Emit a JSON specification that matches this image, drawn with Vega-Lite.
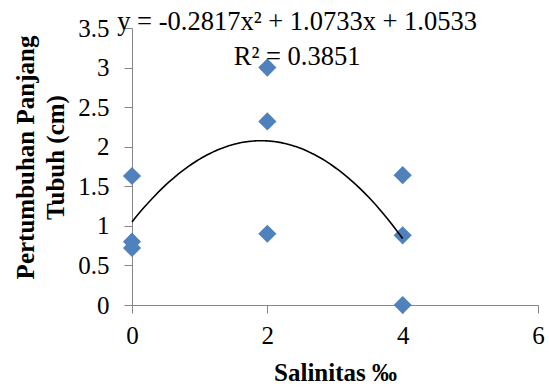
{
  "$schema": "https://vega.github.io/schema/vega-lite/v6.json",
  "width": 406,
  "height": 277,
  "autosize": {"type": "none"},
  "padding": {"left": 132, "top": 28, "right": 11, "bottom": 82},
  "background": "white",
  "config": {
    "view": {"stroke": null},
    "font": "Liberation Serif",
    "axis": {
      "grid": false,
      "domainColor": "#868686",
      "tickColor": "#868686",
      "domainWidth": 1,
      "tickWidth": 1,
      "tickSize": 8,
      "labelFont": "Liberation Serif",
      "labelFontSize": 25,
      "labelColor": "black",
      "labelOverlap": false,
      "labelFlush": false,
      "titleFont": "Liberation Serif",
      "titleFontSize": 25,
      "titleFontWeight": "bold",
      "titleColor": "black"
    }
  },
  "datasets": {
    "pts": [
      {"x": 0, "y": 1.63},
      {"x": 0, "y": 0.8},
      {"x": 0, "y": 0.72},
      {"x": 2, "y": 3.0},
      {"x": 2, "y": 2.32},
      {"x": 2, "y": 0.9},
      {"x": 4, "y": 1.64},
      {"x": 4, "y": 0.88},
      {"x": 4, "y": 0.0}
    ],
    "eq": [
      {"x": 2.44, "y": 3.576, "label": "y = -0.2817x² + 1.0733x + 1.0533"},
      {"x": 2.44, "y": 3.134, "label": "R² = 0.3851"}
    ]
  },
  "encoding": {
    "x": {
      "field": "x", "type": "quantitative",
      "scale": {"domain": [0, 6], "nice": false, "zero": false},
      "axis": {"values": [0, 2, 4, 6], "format": "~g", "title": "Salinitas ‰", "labelPadding": 10, "titlePadding": 12}
    },
    "y": {
      "field": "y", "type": "quantitative",
      "scale": {"domain": [0, 3.5], "nice": false},
      "axis": {
        "values": [0, 0.5, 1, 1.5, 2, 2.5, 3, 3.5],
        "format": "~g",
        "title": ["Pertumbuhan Panjang", "Tubuh (cm)"],
        "labelPadding": 15,
        "titleX": -107,
        "titleY": 129,
        "titleAngle": -90,
        "titleAlign": "center",
        "titleBaseline": "middle",
        "titleLineHeight": 30
      }
    }
  },
  "layer": [
    {
      "data": {"name": "pts"},
      "mark": {"type": "point", "shape": "diamond", "filled": true, "color": "#4F81BD", "opacity": 1, "size": 330}
    },
    {
      "data": {"name": "pts"},
      "transform": [{"regression": "y", "on": "x", "method": "poly", "order": 2, "extent": [0, 4]}],
      "mark": {"type": "line", "color": "black", "strokeWidth": 1.6, "interpolate": "monotone"}
    },
    {
      "data": {"name": "eq"},
      "mark": {"type": "text", "font": "Liberation Serif", "fontSize": 26.5, "color": "black", "align": "center", "baseline": "middle", "clip": false},
      "encoding": {
        "text": {"field": "label"}
      }
    }
  ]
}
